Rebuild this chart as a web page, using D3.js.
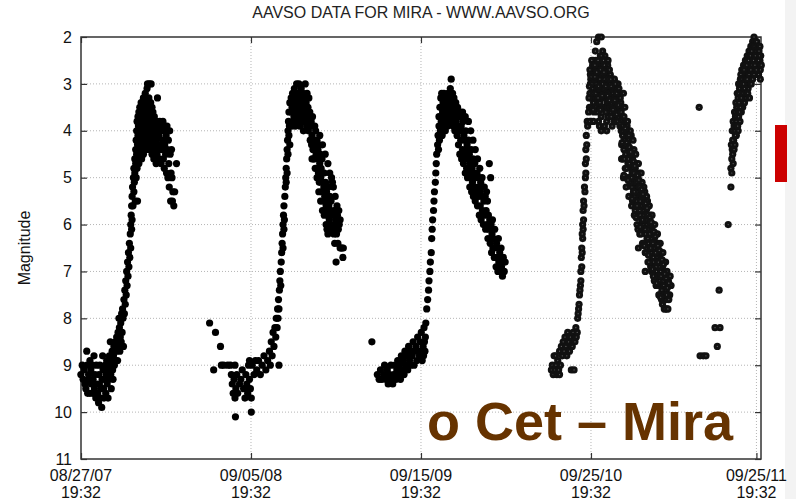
<!DOCTYPE html>
<html>
<head>
<meta charset="utf-8">
<script src="https://cdn.jsdelivr.net/npm/d3@7"></script>
<style>
  body { margin: 0; background: #fff; }
  text { font-family: "Liberation Sans", Arial, Helvetica, sans-serif; }
</style>
</head>
<body>
<svg id="chart" width="796" height="499"></svg>
<script>
// Mira (o Ceti) visual estimates: [JD - 2454000, magnitude]
const season2007 = [
  [340,9.2],[343,9.0],[345,9.3],[347,9.1],[349,9.4],[351,9.5],[353,8.7],[354,9.0],[355,9.6],[357,9.2],
  [358,9.3],[360,9.6],[360,8.9],[362,9.1],[363,9.4],[365,9.0],[366,9.6],[367,9.3],[369,8.8],[370,9.5],
  [371,9.2],[373,9.7],[374,9.0],[375,9.4],[377,9.6],[379,9.8],[380,9.2],[381,9.4],[382,9.0],[384,9.7],
  [385,9.5],[386,9.9],[387,9.3],[388,8.8],[389,9.1],[390,9.5],[391,9.7],[393,9.3],[394,9.0],[395,9.6],
  [396,9.2],[397,8.9],[398,9.4],[399,9.1],[400,9.7],[402,9.3],[403,8.8],[404,9.0],[405,8.5],[406,9.2],
  [407,9.5],[408,8.9],[409,8.7],[410,9.1],[411,9.3],[412,8.8],[413,8.6],[414,9.0],[415,8.7],[416,8.5],
  [417,8.9],[418,8.7],[419,8.4],[420,8.6],[421,8.9],[422,8.3],[423,8.5],[424,8.0],[425,8.2],[426,8.7],
  [427,8.4],[428,8.1],[429,8.5],[430,7.9],[431,8.3],[432,7.8],[433,8.0],[434,8.6],[435,7.6],[436,7.9],
  [437,7.4],[438,7.7],[439,7.2],[440,7.5],[441,7.0],[442,7.3],[443,6.8],[444,7.1],[445,6.6],[446,6.9],
  [447,6.4],[448,6.7],[449,6.2],[450,6.5],[450,6.0],[451,5.8],[452,6.1],[452,5.6],[453,5.9],[453,5.4],
  [454,5.2],[455,5.6],[456,5.0],[457,5.3],[457,4.8],[458,5.1],[459,4.6],[459,4.9],[460,5.5],[465,5.5],
  [461,4.4],[461,4.7],[462,5.0],[462,4.2],[463,4.5],[463,4.0],[464,4.8],[464,3.8],[465,4.3],[465,4.6],
  [466,3.7],[466,4.1],[467,4.4],[467,3.9],[468,4.7],[468,3.6],[469,4.2],[470,3.5],[470,4.0],[471,4.5],
  [471,3.8],[472,4.3],[472,3.6],[473,4.1],[473,3.4],[474,4.6],[474,3.9],[475,3.7],[476,4.4],[476,3.5],
  [477,4.2],[477,3.9],[478,3.3],[478,4.5],[479,3.7],[480,4.1],[480,3.5],[481,4.3],[482,3.2],[482,3.8],
  [483,4.0],[483,3.6],[484,4.4],[485,3.4],[485,3.9],[486,3.1],[486,4.2],[487,3.0],[487,3.7],[488,4.0],
  [488,3.5],[489,4.3],[490,3.3],[490,3.8],[491,4.1],[491,3.0],[492,3.6],[492,4.4],[493,3.9],[494,3.4],
  [494,4.2],[495,3.7],[495,3.0],[496,4.0],[497,3.5],[497,4.5],[498,3.8],[499,4.3],[499,3.6],[500,4.1],
  [501,3.9],[501,4.6],[502,3.7],[503,4.4],[503,4.0],[504,3.8],[505,4.2],[506,4.7],[506,3.9],[507,4.1],
  [508,4.5],[508,3.8],[509,3.3],[509,4.3],[510,3.9],[511,4.4],[512,4.1],[513,4.6],[514,3.8],[515,4.3],
  [516,4.0],[517,4.7],[518,3.9],[519,4.4],[520,4.2],[521,3.8],[522,4.6],[523,4.0],[524,4.8],[525,4.3],
  [526,3.9],[527,4.5],[528,4.1],[529,4.9],[530,3.9],[531,4.4],[532,5.0],[533,4.2],[534,4.7],[535,5.2],
  [536,4.0],[537,4.5],[538,5.5],[539,4.9],[540,4.4],[541,5.0],[542,5.5],[543,5.3],[545,5.6],[547,5.3],
  [551,4.7]
];

const season2008 = [
  [624,8.1],[633,9.1],[637,8.3],[648,8.6],[650,9.0],[655,9.0],[664,9.0],[670,9.0],[680,9.0],[672,9.2],
  [674,9.4],[676,9.6],[678,9.3],[680,9.7],[682,9.5],[684,9.2],[686,9.6],[681,10.1],[690,9.4],[693,9.3],
  [696,9.1],[699,9.5],[702,9.7],[704,9.2],[706,9.4],[708,9.6],[710,9.0],[712,9.3],[712,8.9],[714,9.5],
  [716,9.7],[716,10.0],[718,9.0],[722,9.2],[725,8.9],[728,9.1],[732,8.9],[736,9.2],[740,9.0],[744,8.8],
  [748,9.1],[752,8.9],[756,8.7],[758,9.0],[760,8.5],[762,8.8],[764,8.3],[766,8.6],[768,8.2],[770,8.4],
  [771,8.0],[773,8.2],[774,7.8],[775,8.0],[776,7.6],[777,7.8],[777,9.0],[778,7.4],[779,7.2],[780,7.0],
  [781,7.3],[782,6.8],[783,6.6],[784,6.4],[785,6.2],[786,6.0],[786,6.5],[787,5.8],[788,6.1],[788,5.6],
  [789,5.9],[790,5.4],[791,5.2],[792,5.0],[793,4.8],[793,5.1],[794,4.6],[795,4.4],[795,4.9],[796,4.2],
  [797,4.0],[797,4.5],[798,3.8],[799,4.1],[799,3.6],[800,3.9],[801,3.4],[801,4.3],
  [803,3.6],[804,3.3],[805,3.9],[806,3.5],[807,3.2],[808,3.8],[809,3.4],[810,3.7],[811,3.1],[812,3.5],
  [813,3.9],[814,3.3],[815,3.6],[816,3.0],[817,3.8],[818,3.4],[819,3.2],[820,3.7],[821,3.0],[822,3.5],
  [823,3.9],[824,3.3],[825,3.6],[826,3.1],[827,3.8],[828,3.4],[829,3.7],[830,3.2],[831,4.0],[832,3.5],
  [833,3.3],[834,3.8],[835,3.0],[836,3.6],[837,3.4],[838,3.9],[839,3.2],[840,3.7],[841,3.5],[842,4.0],
  [843,3.3],[844,3.8],[845,3.6],[846,4.2],[847,3.9],
  [848,3.8],[850,4.1],[850,4.6],[851,3.7],[852,4.4],[853,3.9],[854,4.2],[855,4.6],[856,3.9],[857,4.3],
  [858,4.0],[859,4.5],[860,4.8],[861,4.2],[862,4.6],[863,4.4],[864,4.9],[865,4.3],[866,5.1],[867,4.7],
  [868,4.5],[869,5.0],[870,4.8],[871,5.3],[872,4.6],[873,5.1],[874,4.9],[875,5.5],[876,5.2],[877,4.9],
  [878,5.4],[879,5.7],[880,5.1],[881,5.6],[882,5.3],[883,6.1],[884,5.5],[885,5.8],[886,5.2],[887,5.6],
  [888,5.9],[889,5.4],[890,5.7],[891,6.0],[892,5.5],[894,5.8],[895,5.1],[896,6.1],[898,5.7],[900,6.0],
  [902,5.9],[903,6.8],[904,6.2],[906,5.8],[908,6.1],[910,6.0],[912,6.5],[914,6.5],[916,6.5],[918,6.7],
  [919,6.5],
  [849,4.3],[853,4.6],[857,4.8],[861,5.0],[865,5.3],[869,5.5],[873,5.7],[877,5.8],[881,6.0],[885,6.2],
  [867,4.1],[873,4.3],[879,4.5],[885,4.7],[889,4.9],[893,5.0],[897,5.2],[901,5.4],[905,5.6],[909,5.7],
  [912,5.9],[898,6.2],[900,6.4],[907,6.4]
];

const season2009 = [
  [982,8.5],[994,9.2],[998,9.3],[1001,9.1],[1004,9.3],[1008,9.2],[1010,9.0],[1013,9.3],[1016,9.1],[1018,9.4],
  [1021,9.2],[1024,9.0],[1026,9.3],[1028,9.4],[1030,9.2],[1033,9.0],[1035,9.3],[1037,9.1],[1039,8.9],[1041,9.2],
  [1043,9.0],[1045,9.3],[1047,8.8],[1049,9.1],[1051,8.9],[1053,9.2],[1055,8.7],[1057,9.0],[1059,8.8],[1061,9.1],
  [1063,8.6],[1065,8.9],[1067,9.0],[1069,8.7],[1071,8.8],[1073,8.5],[1075,9.0],[1077,8.7],[1079,8.6],[1081,8.9],
  [1083,8.4],[1085,8.7],[1087,8.8],[1089,8.5],[1091,8.3],[1093,8.9],[1095,8.6],[1096,8.8],[1097,8.2],[1098,8.5],
  [1099,8.7],[1100,8.4],[1101,8.1],[1103,7.8],[1105,7.6],[1107,7.4],[1108,7.2],[1110,7.0],[1111,6.8],[1113,6.6],
  [1114,6.3],[1115,6.1],[1116,5.9],[1118,5.7],[1119,5.5],[1120,5.3],[1122,5.1],[1123,4.9],[1124,4.7],[1125,4.5],
  [1127,4.3],[1128,4.1],[1130,3.9],
  [1129,4.4],[1130,3.7],[1131,4.2],[1132,3.5],[1133,4.0],[1134,3.3],[1135,3.8],[1136,3.2],[1137,4.1],[1138,3.6],
  [1139,3.4],[1140,3.9],[1141,3.2],[1142,3.7],[1143,3.5],[1144,4.0],[1145,3.3],[1146,3.8],[1147,3.6],[1148,3.4],
  [1149,3.9],[1150,3.2],[1151,3.7],[1152,3.5],[1153,3.3],[1154,3.8],[1155,3.1],[1156,3.6],[1157,2.9],[1158,3.4],
  [1159,3.7],[1160,3.2],[1161,3.9],[1162,3.5],[1163,3.3],[1164,3.7],[1165,4.0],[1166,3.6],
  [1167,3.4],[1168,3.8],[1169,3.6],[1170,4.1],[1171,3.5],[1172,3.9],[1173,4.3],[1174,3.7],[1175,4.0],[1176,4.5],
  [1177,3.6],[1178,4.2],[1179,3.9],[1180,4.6],[1181,4.0],[1182,4.4],[1183,3.8],[1184,4.7],[1185,4.1],[1186,4.5],
  [1187,4.2],[1188,4.9],[1189,4.0],[1190,4.4],[1191,4.8],[1192,4.3],[1193,5.0],[1194,4.6],[1195,4.2],[1196,4.9],
  [1197,4.5],[1198,5.2],[1199,4.7],[1200,5.0],[1201,4.4],[1202,5.3],[1203,4.8],[1204,5.1],[1205,4.6],[1206,5.4],
  [1207,4.9],[1208,5.2],[1209,4.7],[1210,5.5],[1211,5.0],[1212,5.3],[1214,4.9],[1215,5.6],[1216,5.2],[1217,5.4],
  [1218,5.0],[1219,5.8],[1220,5.3],[1221,5.6],[1222,5.1],[1223,5.9],[1224,5.4],[1226,5.7],[1227,5.2],[1228,6.0],
  [1229,5.5],[1230,5.8],[1232,5.4],[1233,6.1],[1234,5.7],[1236,6.0],[1237,5.5],[1238,6.3],[1239,5.8],[1240,6.1],
  [1241,4.7],[1242,5.9],[1243,6.4],[1244,5.0],[1245,6.0],[1246,6.6],[1247,6.2],[1248,5.9],[1249,6.5],[1250,6.3],
  [1252,6.7],[1253,6.1],[1254,6.5],[1256,6.9],[1257,6.4],[1258,6.7],[1260,7.0],[1261,6.3],[1262,6.8],[1264,6.6],
  [1265,7.0],[1267,6.5],[1268,6.9],[1270,7.1],[1272,6.7],[1274,7.0],[1276,6.8],
  [1182,3.6],[1188,3.7],[1195,3.8],[1200,4.0],[1205,4.2],[1210,4.4],[1215,4.6],[1220,4.8],[1225,5.0],
  [1230,5.2],[1235,5.3]
];

const season2010 = [
  [1378,9.1],[1380,9.0],[1382,9.2],[1384,8.8],[1386,9.1],[1387,8.8],[1388,9.0],[1390,9.2],[1392,8.9],[1394,9.1],
  [1396,9.2],[1396,8.7],[1398,9.0],[1400,8.6],[1402,8.8],[1404,8.5],[1406,8.7],[1408,8.4],[1410,8.6],[1412,8.8],
  [1414,8.3],[1416,8.5],[1418,8.7],[1420,8.4],[1422,9.1],[1424,8.6],[1426,8.3],[1428,9.1],[1430,8.5],[1432,8.2],
  [1433,8.4],[1436,8.0],[1438,7.8],[1440,7.5],[1442,7.3],[1443,7.0],[1444,6.7],[1445,6.5],[1446,6.2],[1447,6.0],
  [1448,5.7],[1449,5.5],[1451,5.2],[1453,5.0],[1453,4.7],[1454,4.4],[1455,4.1],[1457,3.8],[1460,3.6],[1463,3.2],
  [1465,2.9],[1466,2.7],[1470,2.5],[1475,2.3],[1478,2.1],[1482,2.0],[1488,2.0],
  [1435,8.3],[1437,7.9],[1439,7.7],[1441,7.4],[1443,7.2],[1445,6.9],[1446,6.6],[1447,6.3],[1448,6.1],[1449,5.9],
  [1450,5.6],[1452,5.3],[1454,4.9],[1455,4.6],[1456,4.3],[1458,3.9],
  [1462,3.5],[1464,3.0],[1466,3.8],[1468,3.3],[1470,2.8],[1472,3.6],[1474,3.1],[1476,2.5],[1478,3.4],[1480,2.9],
  [1482,3.8],[1484,2.6],[1486,3.2],[1488,3.7],[1490,2.5],[1492,3.0],[1494,3.5],[1496,2.7],[1498,3.3],[1500,3.8],
  [1502,2.6],[1504,3.1],[1506,3.6],[1508,2.8],[1510,3.3],[1512,3.9],[1514,2.9],[1516,3.4],[1518,3.1],[1520,3.7],
  [1522,3.0],[1524,3.5],[1526,3.2],[1528,3.8],[1530,3.3],[1532,4.0],[1534,3.5],
  [1465,3.3],[1469,3.1],[1473,2.7],[1477,3.0],[1481,3.3],[1485,2.9],[1489,3.2],[1493,2.8],[1497,3.1],[1501,3.4],
  [1505,2.9],[1509,3.6],[1513,3.2],[1517,2.9],[1521,3.4],[1525,3.0],[1529,3.5],
  [1463,2.7],[1467,2.5],[1471,3.4],[1475,2.8],[1479,2.6],[1483,3.5],[1487,2.7],[1491,3.5],[1495,2.6],[1499,2.9],
  [1503,3.7],[1507,3.3],[1511,3.0],[1515,3.7],[1519,3.3],[1523,3.8],[1527,3.6],[1531,3.8],[1491,2.3],[1486,2.4],
  [1496,2.4],[1503,2.5],
  [1461,3.3],[1463,3.8],[1464,2.8],[1466,3.5],[1467,3.0],[1469,2.6],[1470,3.2],[1471,3.8],[1472,2.9],[1474,2.6],
  [1475,3.5],[1476,3.2],[1477,2.7],[1479,3.1],[1480,3.6],[1481,2.5],[1482,2.8],[1483,3.1],[1485,3.4],[1486,2.7],
  [1487,3.0],[1488,2.4],[1489,3.5],[1490,2.8],[1491,3.0],[1492,3.3],[1493,2.5],[1494,3.1],[1495,2.9],[1497,2.8],
  [1498,3.6],[1499,3.2],[1500,2.7],[1501,3.0],[1502,3.5],[1503,2.9],[1504,3.4],[1505,3.2],[1506,2.7],[1507,3.0],
  [1508,3.5],[1509,2.9],[1510,3.7],[1511,3.4],[1512,3.1],[1513,3.5],[1514,3.3],[1515,3.0],[1516,3.8],[1517,3.3],
  [1518,3.6],[1519,3.0],[1520,3.4],[1521,3.8],[1522,3.2],[1523,3.5],[1524,3.8],[1525,3.4],[1526,3.7],[1527,3.1],
  [1528,3.4],[1529,3.9],[1530,3.6],[1531,3.4],[1533,3.8],
  [1462,3.05],[1466,2.85],[1470,3.55],[1474,2.85],[1478,2.75],[1482,3.05],[1486,3.55],[1490,3.25],[1494,2.75],
  [1498,3.05],[1502,3.25],[1506,3.35],[1510,3.05],[1514,3.55],[1518,3.35],[1522,3.65],[1526,3.45],[1530,3.85],
  [1484,3.9],[1488,4.0],[1495,3.9],[1500,4.0],
  [1532,3.6],[1533,4.3],[1535,3.9],[1536,4.6],[1537,3.2],[1538,3.7],[1539,4.2],[1541,4.8],[1542,4.0],[1544,4.5],
  [1545,3.9],[1547,4.7],[1548,4.2],[1550,5.0],[1551,4.4],[1553,4.8],[1554,4.1],[1556,5.2],[1557,4.6],[1559,5.0],
  [1560,4.4],[1562,5.4],[1563,4.8],[1565,5.2],[1566,4.7],[1568,5.6],[1569,5.0],[1570,6.5],[1571,5.4],[1572,4.9],
  [1574,5.8],[1575,5.3],[1577,5.6],[1578,5.1],[1580,6.0],[1581,5.5],[1583,5.8],[1584,5.3],[1585,7.0],[1586,6.2],
  [1587,5.7],[1589,6.0],[1590,5.5],[1592,6.4],[1593,5.9],[1595,6.2],[1596,5.8],[1598,6.6],[1599,6.1],[1601,6.4],
  [1602,6.0],[1604,6.8],[1605,6.3],[1607,6.6],[1608,6.2],[1610,7.0],[1611,6.5],[1613,6.8],[1614,6.4],[1616,7.2],
  [1617,6.7],[1619,7.0],[1620,6.6],[1622,7.4],[1623,6.9],[1625,7.2],[1626,6.8],[1628,7.6],[1629,7.1],[1631,7.4],
  [1633,7.8],[1634,7.2],[1636,7.5],[1638,7.3],[1640,7.1],
  [1540,4.4],[1546,4.3],[1552,4.6],[1558,4.8],[1564,5.0],[1570,5.2],[1576,5.4],[1582,5.7],[1588,5.9],[1594,6.1],
  [1600,6.3],[1606,6.5],[1612,6.7],[1618,6.9],[1624,7.1],[1630,7.3],
  [1534,4.6],[1537,5.0],[1540,3.5],[1543,5.2],[1546,3.8],[1549,5.4],[1552,4.0],[1555,5.6],[1558,4.2],[1561,5.8],
  [1564,4.5],[1567,6.0],[1570,4.7],[1573,6.2],[1576,4.9],[1579,6.4],[1582,5.2],[1585,6.6],[1588,5.4],[1591,6.8],
  [1594,5.6],[1597,6.9],[1600,5.8],[1603,7.1],[1606,6.0],[1609,7.3],[1612,6.2],[1615,7.5],[1618,6.4],[1621,7.6],
  [1624,6.6],[1627,7.8],[1630,6.8],[1633,7.0],[1636,7.2],[1639,7.5],[1642,7.3],
  [1535,4.1],[1538,4.4],[1541,4.3],[1544,4.8],[1547,4.5],[1550,4.7],[1553,5.1],[1556,4.9],[1559,5.3],[1562,5.1],
  [1565,5.5],[1568,5.3],[1571,5.7],[1574,5.5],[1577,5.9],[1580,5.7],[1583,6.1],[1586,5.9],[1589,6.3],[1592,6.1],
  [1595,6.5],[1598,6.3],[1601,6.7],[1604,6.5],[1607,6.9],[1610,6.7],[1613,7.1],[1616,6.9],[1619,7.3],[1622,7.1],
  [1625,7.5],[1628,7.3],[1631,7.6],[1634,7.5],
  [1533,4.6],[1536,4.0],[1539,4.6],[1542,4.5],[1543,4.0],[1545,5.0],[1548,4.6],[1549,4.1],[1551,5.1],[1554,4.5],
  [1555,5.0],[1557,5.5],[1560,4.9],[1561,5.3],[1563,5.7],[1566,5.1],[1567,5.6],[1569,6.1],[1572,5.2],[1573,5.7],
  [1575,6.2],[1578,5.4],[1579,5.9],[1581,6.4],[1584,5.6],[1585,6.1],[1587,6.6],[1590,5.8],[1591,6.3],[1593,6.8],
  [1596,6.0],[1597,6.5],[1599,7.0],[1602,6.4],[1603,6.7],[1605,7.2],[1608,6.6],[1609,6.9],[1611,7.3],[1614,6.8],
  [1615,7.1],[1617,7.5],[1620,7.1],[1621,7.3],[1623,7.7],[1626,7.3],[1627,7.5],[1629,7.8],[1632,7.5],[1635,7.8],
  [1637,7.6],
  [1534,4.25],[1538,4.95],[1541,3.95],[1544,4.25],[1547,5.05],[1550,4.35],[1553,4.45],[1556,5.45],[1559,4.65],
  [1562,4.75],[1565,5.85],[1568,4.95],[1571,5.05],[1574,6.05],[1577,5.25],[1580,5.35],[1583,6.45],[1586,5.55],
  [1589,5.65],[1592,6.65],[1595,5.85],[1598,5.95],[1601,6.95],[1604,6.15],[1607,6.25],[1610,7.25],[1613,6.45],
  [1616,6.55],[1619,7.55],[1622,6.75],[1625,6.85],[1628,7.05],[1631,7.15],[1634,7.35],[1637,7.25]
];

const season2011 = [
  [1704,3.5],[1706,8.8],[1713,8.8],[1719,8.8],[1739,8.2],[1744,8.6],[1750,8.2],[1748,7.4],[1768,6.0],[1774,5.2],
  [1774,4.8],[1776,4.9],[1777,4.4],[1775,4.3],[1777,4.0],[1778,4.5],[1779,3.8],[1780,4.2],[1782,3.6],[1783,4.0],
  [1785,3.4],[1786,3.8],[1788,3.2],[1789,3.6],[1790,4.0],[1791,3.0],[1792,3.4],[1794,3.8],[1795,2.9],[1796,3.3],
  [1798,2.7],[1799,3.1],[1800,3.5],[1802,2.6],[1803,3.0],[1805,3.3],[1806,2.5],[1807,2.8],[1809,3.1],[1810,2.4],
  [1811,2.7],[1812,3.1],[1813,3.0],[1814,2.3],[1815,2.6],[1817,2.9],[1818,2.2],[1819,2.5],[1821,2.8],[1822,2.1],
  [1823,2.4],[1825,2.0],[1826,2.7],[1827,2.3],[1829,2.5],[1829,2.8],[1830,2.2],[1832,2.6],[1833,2.4],[1834,2.8],
  [1835,2.8],[1836,2.3],[1838,2.5],[1840,2.4],
  [1781,3.9],[1784,3.7],[1787,3.5],[1790,3.3],[1793,3.1],[1797,3.0],[1800,2.8],[1804,2.7],[1808,2.6],[1812,2.5],
  [1816,2.4],[1820,2.3],[1824,2.2],[1828,2.1],[1831,2.4],[1834,2.2],[1837,2.6],[1839,2.7],[1801,3.3],[1808,3.3],
  [1816,3.0],[1823,2.7],[1797,3.6],[1804,3.4],[1786,4.1],[1783,4.3],
  [1776,4.6],[1778,4.2],[1779,4.7],[1781,4.4],[1782,3.9],[1784,4.1],[1785,3.7],[1787,3.9],[1788,3.5],[1789,3.9],
  [1791,3.7],[1792,3.2],[1793,3.6],[1795,3.5],[1796,2.8],[1797,3.3],[1799,2.9],[1800,3.2],[1802,3.0],[1803,2.7],
  [1804,3.1],[1806,2.9],[1807,3.2],[1809,2.6],[1810,2.9],[1811,3.2],[1813,2.5],[1814,2.8],[1815,3.3],[1817,2.4],
  [1818,2.7],[1819,3.0],[1820,2.6],[1821,2.2],[1822,2.9],[1824,2.5],[1825,2.8],[1826,2.2],[1827,2.6],[1828,2.4],
  [1830,2.7],[1831,2.1],[1833,2.2],[1835,2.5],[1837,2.4],[1838,2.2],[1839,2.9],[1841,2.6]
];

const seasons = [season2007, season2008, season2009, season2010, season2011];
const ringedSeasons = [season2010, season2011];

const magTicks = [2, 3, 4, 5, 6, 7, 8, 9, 10, 11];
const dateTicks = ["2007-08-27T19:32Z", "2008-09-05T19:32Z", "2009-09-15T19:32Z",
                   "2010-09-25T19:32Z", "2011-09-25T19:32Z"];
const jdRange = [340.31, 1840.4];

const title = "AAVSO DATA FOR MIRA - WWW.AAVSO.ORG";
const yTitle = "Magnitude";
const starName = "o Cet \u2013 Mira";

// JD offsets are relative to JD 2454000
const jdToDate = jd => new Date(Date.UTC(2000, 0, 1, 12) + (jd + 2454000 - 2451545) * 864e5);

const svg = d3.select("#chart");
const plot = { left: 81, right: 761, top: 37, bottom: 459 };

const x = d3.scaleUtc().domain(jdRange.map(jdToDate)).range([plot.left, plot.right]);
const y = d3.scaleLinear().domain([2, 11]).range([plot.top, plot.bottom]);
const tickDates = dateTicks.map(s => new Date(s));

// light side strip and red marker on the far right
svg.append("rect").attr("x", 785).attr("y", 0).attr("width", 11).attr("height", 499).attr("fill", "#f3f3f3");
svg.append("rect").attr("x", 775).attr("y", 125).attr("width", 12).attr("height", 57).attr("fill", "#cc0000");

// dotted grid
const grid = svg.append("g").attr("stroke", "#b5b5b5").attr("stroke-dasharray", "1,2");
grid.selectAll(".gy").data(magTicks.slice(1, -1)).join("line")
  .attr("x1", plot.left).attr("x2", plot.right)
  .attr("y1", d => y(d)).attr("y2", d => y(d));
grid.selectAll(".gx").data(tickDates.slice(1)).join("line")
  .attr("x1", d => x(d)).attr("x2", d => x(d))
  .attr("y1", plot.top).attr("y2", plot.bottom);

// axes with inward ticks on all four sides
const axisStyle = g => {
  g.select(".domain").remove();
  g.selectAll(".tick line").attr("stroke", "#333").attr("stroke-width", 1.2);
  g.selectAll(".tick text").attr("font-size", 16).attr("fill", "#111")
    .style("font-family", "'Liberation Sans', Arial, sans-serif");
};
svg.append("g").attr("transform", `translate(${plot.left},0)`)
  .call(d3.axisLeft(y).tickValues(magTicks).tickSizeInner(-6).tickSizeOuter(0).tickPadding(9))
  .call(axisStyle);
svg.append("g").attr("transform", `translate(${plot.right},0)`)
  .call(d3.axisRight(y).tickValues(magTicks).tickSizeInner(-6).tickSizeOuter(0).tickFormat(""))
  .call(axisStyle);
svg.append("g").attr("transform", `translate(0,${plot.bottom})`)
  .call(d3.axisBottom(x).tickValues(tickDates).tickSizeInner(-6).tickSizeOuter(0).tickFormat(""))
  .call(axisStyle);
svg.append("g").attr("transform", `translate(0,${plot.top})`)
  .call(d3.axisTop(x).tickValues(tickDates).tickSizeInner(-6).tickSizeOuter(0).tickFormat(""))
  .call(axisStyle);

// two-line date labels
const fmtDay = d3.utcFormat("%m/%d/%y"), fmtTime = d3.utcFormat("%H:%M");
const xl = svg.append("g").attr("font-size", 16).attr("fill", "#111").attr("text-anchor", "middle");
xl.selectAll(".d").data(tickDates).join("text")
  .attr("x", d => x(d)).attr("y", 480.5).text(fmtDay);
xl.selectAll(".t").data(tickDates).join("text")
  .attr("x", d => x(d)).attr("y", 497.5).text(fmtTime);

svg.append("rect")
  .attr("x", plot.left).attr("y", plot.top)
  .attr("width", plot.right - plot.left).attr("height", plot.bottom - plot.top)
  .attr("fill", "none").attr("stroke", "#333").attr("stroke-width", 1.5);

// observations
const pts = svg.append("g");
seasons.forEach(season => {
  const ringed = ringedSeasons.includes(season);
  const g = pts.append("g");
  const dots = g.selectAll("g").data(season).join("g")
    .attr("transform", d => `translate(${x(jdToDate(d[0]))},${y(d[1])})`);
  dots.append("circle").attr("r", 3.6).attr("fill", ringed ? "#111" : "#000");
  if (ringed) dots.append("circle").attr("r", 0.6).attr("fill", "#666");
});

svg.append("text").attr("x", 421).attr("y", 18).attr("text-anchor", "middle")
  .attr("font-size", 16).attr("fill", "#222").text(title);

svg.append("text").attr("transform", "translate(29.5,248) rotate(-90)")
  .attr("text-anchor", "middle").attr("font-size", 16).attr("fill", "#111").text(yTitle);

svg.append("text").attr("x", 427).attr("y", 440)
  .attr("font-size", 54).attr("font-weight", "bold").attr("fill", "#663300").text(starName);
</script>
</body>
</html>
